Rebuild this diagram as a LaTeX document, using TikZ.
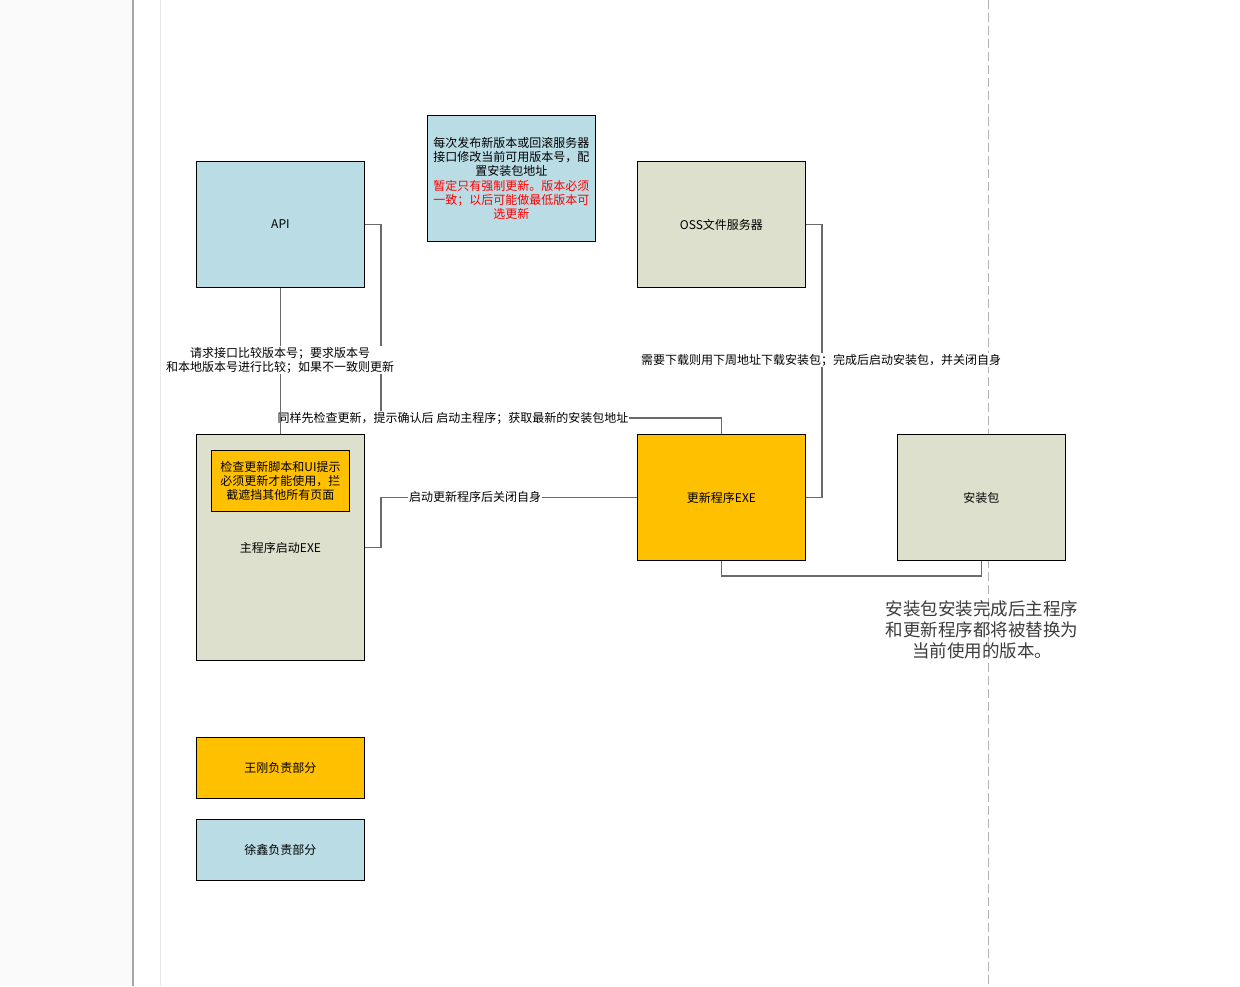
\documentclass[tikz,border=0pt]{standalone}
\usepackage{fontspec}
\setmainfont{Liberation Sans}
\newfontfamily\cjk{Noto Sans CJK SC}
\usetikzlibrary{calc}
\definecolor{cblue}{HTML}{B9DCE5}
\definecolor{cgray}{HTML}{DDE0CD}
\definecolor{corange}{HTML}{FFC000}
\definecolor{cline}{HTML}{6A6A6A}
\definecolor{cred}{HTML}{FF0000}
\definecolor{ctext}{HTML}{3C3C3C}
\tikzset{
  box/.style={draw=black, line width=0.9pt, anchor=north west, inner sep=0pt,
    minimum width=168pt, minimum height=126pt, align=center,
    font=\cjk\fontsize{12}{14.3}\selectfont},
  conn/.style={draw=cline, line width=1.8pt},
  lbl/.style={fill=white, inner sep=1pt, align=center,
    font=\cjk\fontsize{12}{14}\selectfont},
}
\begin{document}
\begin{tikzpicture}[x=1pt, y=-1pt]
\useasboundingbox (0,0) rectangle (1240,986);
% page background
\fill[white] (0,0) rectangle (1240,986);
\fill[black!2] (0,0) rectangle (133,986);
\draw[line width=2pt, color=black!35] (133,0) -- (133,986);
\draw[line width=1pt, color=black!9] (160,0) -- (160,986);
\draw[color=black!30, line width=1pt, dash pattern=on 9pt off 4pt] (988,0) -- (988,986);

% boxes
\node[box, fill=cblue] (api) at (196,161) {API};
\node[box, fill=cblue, minimum height=126pt] (note) at (427,115)
  {每次发布新版本或回滚服务器\\接口修改当前可用版本号，配\\置安装包地址\\
   \textcolor{cred}{暂定只有强制更新。版本必须}\\\textcolor{cred}{一致；以后可能做最低版本可}\\\textcolor{cred}{选更新}};
\node[box, fill=cgray] (oss) at (637,161) {OSS文件服务器};
\node[box, fill=cgray, minimum height=226pt] (main) at (196,434) {主程序启动EXE};
\node[box, fill=corange, minimum width=138pt, minimum height=61pt] (chk) at (211,450)
  {检查更新脚本和UI提示\\必须更新才能使用，拦\\截遮挡其他所有页面};
\node[box, fill=corange] (upd) at (637,434) {更新程序EXE};
\node[box, fill=cgray] (pkg) at (897,434) {安装包};
\node[box, fill=corange, minimum height=61pt] (lg1) at (196,737) {王刚负责部分};
\node[box, fill=cblue, minimum height=61pt] (lg2) at (196,819) {徐鑫负责部分};

% connectors
\draw[conn] (api.east) -- ++(16,0) |- ($(upd.north)+(0,-16)$) -- (upd.north);
\node[lbl] (l2) at (453,418) {同样先检查更新，提示确认后 启动主程序；获取最新的安装包地址};
\draw[conn] (api.south) -- (main.north);
\node[lbl] (l1) at (280,360) {请求接口比较版本号；要求版本号\\和本地版本号进行比较；如果不一致则更新};
\draw[conn] (main.east) -- ++(16,0) |- (upd.west);
\node[lbl] (l3) at (475,497) {启动更新程序后关闭自身};
\draw[conn] (oss.east) -- ++(16,0) |- (upd.east);
\node[lbl] (l4) at (821,360) {需要下载则用下周地址下载安装包；完成后启动安装包，并关闭自身};
\draw[conn] (upd.south) -- ++(0,15) -| (pkg.south);

% note text
\node[align=center, text=ctext, inner sep=0pt, font=\cjk\fontsize{17.5}{21}\selectfont] (fin) at (982,630)
  {安装包安装完成后主程序\\和更新程序都将被替换为\\当前使用的版本。};
\end{tikzpicture}
\end{document}
